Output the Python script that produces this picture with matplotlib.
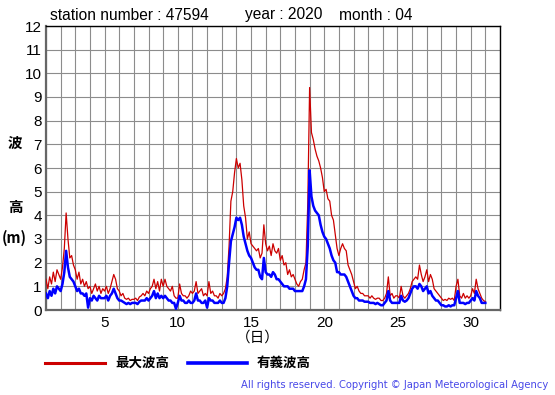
import numpy as np
import matplotlib
matplotlib.use("Agg")
import matplotlib.pyplot as plt
from matplotlib.lines import Line2D

# wave heights (m), every 3 h from Apr 1 00:00 to May 1 00:00
# one row per day: 00 03 06 09 12 15 18 21
max_wave = [
    1.3, 0.9, 1.4, 1.1, 1.6, 1.2, 1.7, 1.5,
    1.3, 1.8, 2.6, 4.1, 3.0, 2.2, 2.3, 1.9,
    1.7, 1.3, 1.6, 1.1, 1.3, 1.0, 1.2, 0.9,
    1.0, 0.7, 0.9, 1.1, 0.8, 1.0, 0.7, 0.9,
    0.8, 1.0, 0.7, 0.9, 1.2, 1.5, 1.3, 0.9,
    0.8, 0.6, 0.7, 0.5, 0.45, 0.5, 0.4, 0.45,
    0.45, 0.5, 0.4, 0.55, 0.6, 0.7, 0.6, 0.8,
    0.7, 0.9, 1.0, 1.3, 0.9, 1.2, 0.8, 1.3,
    1.0, 1.3, 1.0, 0.9, 0.8, 1.0, 0.6, 0.5,
    0.5, 1.1, 0.7, 0.6, 0.6, 0.5, 0.6, 0.8,
    0.7, 0.8, 1.2, 0.7, 0.8, 0.9, 0.6, 0.7,
    0.6, 1.2, 0.7, 0.8, 0.6, 0.6, 0.5, 0.7,
    0.6, 0.7, 0.9, 1.4, 2.7, 4.6, 5.0, 5.8,
    6.4, 6.0, 6.2, 5.5, 4.4, 3.9, 3.0, 3.3,
    2.8, 2.7, 2.6, 2.5, 2.6, 2.2, 2.4, 3.6,
    2.8, 2.5, 2.7, 2.3, 2.8, 2.5, 2.4, 2.6,
    2.1, 2.3, 1.9, 2.0, 1.5, 1.7, 1.4, 1.5,
    1.3, 1.1, 1.0, 1.2, 1.3, 1.7, 2.0, 4.5,
    9.4, 7.5, 7.2, 6.8, 6.5, 6.3, 6.0, 5.6,
    5.0, 5.1, 4.7, 4.6, 4.0, 3.8, 3.2, 2.6,
    2.3, 2.6, 2.8, 2.6, 2.5, 1.9, 1.7, 1.5,
    1.2, 0.9, 1.0, 0.8, 0.7, 0.7, 0.6, 0.6,
    0.6, 0.5, 0.6, 0.5, 0.45, 0.5, 0.5, 0.4,
    0.4, 0.5, 0.7, 1.4, 0.6, 0.7, 0.5, 0.6,
    0.6, 0.5, 1.0, 0.6, 0.5, 0.6, 0.7, 0.9,
    1.2, 1.3, 1.4, 1.3, 1.9, 1.5, 1.2, 1.4,
    1.7, 1.2, 1.5, 1.3, 0.9, 0.8, 0.7, 0.6,
    0.5, 0.4, 0.45, 0.4, 0.5, 0.45, 0.5, 0.4,
    1.0, 1.3, 0.6, 0.5, 0.7, 0.5, 0.6, 0.5,
    0.6, 0.9, 0.7, 1.3, 0.9, 0.7, 0.5, 0.4,
    0.35,
]
sig_wave = [
    0.7, 0.5, 0.8, 0.6, 0.9, 0.7, 1.0, 0.9,
    0.8, 1.1, 1.6, 2.5, 1.8, 1.4, 1.3, 1.2,
    1.0, 0.8, 0.9, 0.7, 0.7, 0.6, 0.7, 0.1,
    0.5, 0.4, 0.6, 0.5, 0.4, 0.6, 0.5, 0.5,
    0.5, 0.6, 0.4, 0.6, 0.7, 0.9, 0.7, 0.5,
    0.4, 0.4, 0.35, 0.3, 0.25, 0.3, 0.25, 0.3,
    0.3, 0.3, 0.25, 0.35, 0.4, 0.4, 0.4, 0.5,
    0.4, 0.5, 0.6, 0.8, 0.5, 0.7, 0.5, 0.6,
    0.5, 0.6, 0.5, 0.4, 0.4, 0.3, 0.3, 0.05,
    0.3, 0.6, 0.4, 0.4, 0.3, 0.3, 0.4, 0.3,
    0.3, 0.4, 0.7, 0.4, 0.4, 0.3, 0.3, 0.4,
    0.1, 0.5, 0.4, 0.4, 0.3, 0.3, 0.3, 0.4,
    0.3, 0.3, 0.5, 1.0, 2.0, 2.9, 3.2, 3.5,
    3.9, 3.8, 3.9, 3.6, 3.1, 2.8, 2.5, 2.3,
    2.2, 2.0, 1.8, 1.7, 1.7, 1.4, 1.3, 2.2,
    1.6, 1.5, 1.5, 1.4, 1.6, 1.5, 1.3, 1.3,
    1.2, 1.1, 1.0, 1.0, 1.0, 0.9, 0.9, 0.9,
    0.8, 0.8, 0.8, 0.8, 0.8, 1.0, 1.3, 2.7,
    5.9, 4.8, 4.4, 4.2, 4.1, 4.0, 3.6, 3.3,
    3.1, 3.0, 2.8, 2.6, 2.3, 2.1, 2.0, 1.6,
    1.6, 1.5, 1.5, 1.5, 1.4, 1.2, 1.0, 0.8,
    0.6, 0.5, 0.5, 0.4, 0.4, 0.4, 0.35, 0.35,
    0.35, 0.3, 0.3, 0.3, 0.25, 0.3, 0.25, 0.2,
    0.2, 0.3, 0.4, 0.8, 0.4, 0.3, 0.3, 0.3,
    0.3, 0.3, 0.6, 0.4, 0.35, 0.4, 0.5, 0.7,
    0.9, 1.0, 1.0, 0.9, 1.1, 1.0, 0.8, 0.9,
    1.0, 0.7, 0.8, 0.6, 0.5, 0.4, 0.4, 0.3,
    0.2, 0.2, 0.15, 0.15, 0.2, 0.15, 0.2, 0.2,
    0.5, 0.8, 0.3, 0.3, 0.3, 0.25, 0.3, 0.3,
    0.4, 0.5, 0.4, 0.8, 0.6, 0.5, 0.3, 0.3,
    0.3,
]
day_ticks = [5, 10, 15, 20, 25, 30]
header = ["station number : 47594", "year : 2020", "month : 04"]
legend_names = ["最大波高", "有義波高"]

STEP_DAYS = 3 / 24
days = 1 + np.arange(len(max_wave)) * STEP_DAYS

RED = "#cc0000"
BLUE = "#0000ff"
JP = ["Noto Sans CJK JP", "DejaVu Sans"]
plt.rcParams["font.family"] = ["Liberation Sans", "DejaVu Sans"]

fig = plt.figure(figsize=(5.55, 3.95), dpi=100)
ax = fig.add_axes([46 / 555, 85 / 395, 454 / 555, 284 / 395])

ax.plot(days, max_wave, color=RED, lw=0.9, zorder=3)
ax.plot(days, sig_wave, color=BLUE, lw=1.8, zorder=4)

ax.set_xlim(1, 32)
ax.set_ylim(0, 12)
ax.set_xticks(day_ticks)
ax.set_xticks(np.arange(1, 33), minor=True)
ax.set_yticks(np.arange(0, 13))
ax.grid(which="both", color="#8c8c8c", lw=0.8)
ax.set_axisbelow(True)
ax.tick_params(which="both", length=0, labelsize=11, pad=3)
ax.tick_params(axis="x", pad=4)
for s in ("top", "right"):
    ax.spines[s].set_color("black")
    ax.spines[s].set_linewidth(1.0)
for s in ("left", "bottom"):
    ax.spines[s].set_color("#666666")
    ax.spines[s].set_linewidth(1.6)

# header line
fig.text(50 / 555, 1 - 15 / 395, header[0], fontsize=11.2, va="center")
fig.text(245 / 555, 1 - 15 / 395, header[1], fontsize=11.2, va="center")
fig.text(339 / 555, 1 - 15 / 395, header[2], fontsize=11.2, va="center")

# y label, stacked by hand
for txt, x, y in (("波", 15, 143), ("高", 15, 207), ("(m)", 14, 238)):
    fig.text(x / 555, 1 - y / 395, txt, family=JP, fontsize=10.5,
             fontweight="bold", ha="center", va="center")
fig.text(258 / 555, 1 - 338 / 395, "（日）", family=JP, fontsize=10.5,
         ha="center", va="center")

# legend drawn below the axes
for (x0, x1, tx), col, lw, name in zip(((45, 105, 115), (188, 247, 257)),
                                       (RED, BLUE), (2.2, 2.6), legend_names):
    fig.add_artist(Line2D([x0 / 555, x1 / 555], [1 - 363 / 395] * 2,
                          color=col, lw=lw))
    fig.text(tx / 555, 1 - 363 / 395, name, family=JP, fontsize=9.7,
             fontweight="bold", va="center")

fig.text(548 / 555, 1 - 385 / 395,
         "All rights reserved. Copyright © Japan Meteorological Agency",
         family="DejaVu Sans", fontsize=7.2, color="#4848e8", ha="right", va="center")

fig.savefig("out.png", dpi=100)
